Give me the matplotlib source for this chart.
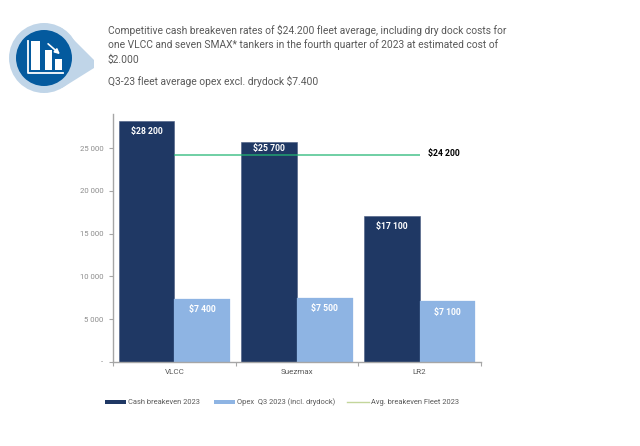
import matplotlib
matplotlib.use("Agg")
import matplotlib.pyplot as plt
from matplotlib.patches import Circle, Polygon, Rectangle

plt.rcParams['font.family'] = ['Roboto', 'Liberation Sans', 'DejaVu Sans']

categories = ['VLCC', 'Suezmax', 'LR2']
cash_breakeven = [28200, 25700, 17100]
opex = [7400, 7500, 7100]
fleet_avg = [24200, 24200, 24200]
cash_labels = ['$28 200', '$25 700', '$17 100']
opex_labels = ['$7 400', '$7 500', '$7 100']
avg_label = '$24 200'
y_ticks = [0, 5000, 10000, 15000, 20000, 25000]
y_labels = ['-', '5 000', '10 000', '15 000', '20 000', '25 000']

header_lines = [
    'Competitive cash breakeven rates of $24.200 fleet average, including dry dock costs for',
    'one VLCC and seven SMAX* tankers in the fourth quarter of 2023 at estimated cost of',
    '$2.000',
]
header_sub = 'Q3-23 fleet average opex excl. drydock $7.400'

W, H = 640, 446
DARK = '#1f3864'
LIGHT = '#8eb4e3'
GREY = '#8c8c8c'
TXT = '#595959'

fig = plt.figure(figsize=(6.4, 4.46), dpi=100)

# overlay in pixel coords for the icon and header
bg = fig.add_axes([0, 0, 1, 1])
bg.set_xlim(0, W)
bg.set_ylim(H, 0)
bg.axis('off')

bg.add_patch(Polygon([[62, 28], [94, 60], [94, 68], [62, 88]], color='#c0d5e8', lw=0))
bg.add_patch(Circle((44, 58), 35, color='#c0d5e8', lw=0))
bg.add_patch(Circle((44, 58), 28, color='#045a9e', lw=0))
bg.add_patch(Rectangle((31, 41), 9, 29, color='white', lw=0))
bg.add_patch(Rectangle((45, 50), 7, 20, color='white', lw=0))
bg.add_patch(Rectangle((55, 59), 7, 11, color='white', lw=0))
bg.plot([28, 28, 63], [41, 73, 73], color='white', lw=1.3)
bg.annotate('', xy=(62, 56), xytext=(46, 42),
            arrowprops=dict(arrowstyle='-|>', color='white', lw=1.2, mutation_scale=7))

for y, line in zip([30, 45, 60], header_lines):
    bg.text(108, y, line, fontsize=7.4, color=TXT, va='center', ha='left')
bg.text(108, 81, header_sub, fontsize=7.4, color=TXT, va='center', ha='left')

# chart axes: x 113..481, y 114..362 px
ax = fig.add_axes([113 / W, 1 - 362 / H, 368 / W, 248 / H])
x = list(range(len(categories)))
bw = 0.454
bars1 = ax.bar([i - bw / 2 for i in x], cash_breakeven, bw, color=DARK,
               edgecolor='#47597f', lw=0.4, label='Cash breakeven 2023')
bars2 = ax.bar([i + bw / 2 for i in x], opex, bw, color=LIGHT,
               edgecolor=LIGHT, lw=0.2, label='Opex  Q3 2023 (incl. drydock)')
# semi transparent so the line turns dark green over the navy bar, like the original
line, = ax.plot(x, fleet_avg, color='#22b573', alpha=0.7, lw=1.3, zorder=3,
                solid_capstyle='butt', label='Avg. breakeven Fleet 2023')

for b, s in zip(bars1, cash_labels):
    # the Suezmax label sits higher to clear the green line
    offset = -4.5 if s == '$25 700' else -8
    ax.annotate(s, (b.get_x() + b.get_width() / 2, b.get_height()), xytext=(0, offset),
                textcoords='offset points', ha='center', va='center',
                color='white', fontsize=6.2, fontweight='bold', zorder=5)
for b, s in zip(bars2, opex_labels):
    ax.annotate(s, (b.get_x() + b.get_width() / 2, b.get_height()), xytext=(0, -8),
                textcoords='offset points', ha='center', va='center',
                color='white', fontsize=6.2, fontweight='bold', zorder=5)
ax.annotate(avg_label, (2, fleet_avg[2]), xytext=(6, 1), textcoords='offset points',
            ha='left', va='center', color='black', fontsize=6.2, fontweight='bold')

ax.set_xlim(-0.5, 2.5)
ax.set_ylim(0, 29000)
ax.set_yticks(y_ticks)
ax.set_yticklabels(y_labels, fontsize=5.6, color=GREY)
ax.set_xticks([-0.5, 0.5, 1.5, 2.5])
ax.set_xticklabels([])
ax.set_xticks(x, minor=True)
ax.set_xticklabels(categories, minor=True, fontsize=5.8, color=TXT)
ax.tick_params(axis='x', which='minor', length=0, pad=5)
ax.tick_params(axis='x', which='major', length=3, direction='out', color='#a6a6a6', width=0.8)
ax.tick_params(axis='y', length=3, direction='out', color='#a6a6a6', width=0.8, pad=4)
for side in ['top', 'right']:
    ax.spines[side].set_visible(False)
for side in ['left', 'bottom']:
    ax.spines[side].set_color('#a6a6a6')
    ax.spines[side].set_linewidth(1)
ax.patch.set_alpha(0)

# legend keys, line key is paler in the original
key_y = 402
bg.add_patch(Rectangle((105, key_y - 2), 21, 4, color=DARK, lw=0))
bg.text(128, key_y, 'Cash breakeven 2023', fontsize=5.4, color=TXT, va='center')
bg.add_patch(Rectangle((214, key_y - 2), 21, 4, color=LIGHT, lw=0))
bg.text(237, key_y, 'Opex  Q3 2023 (incl. drydock)', fontsize=5.4, color=TXT, va='center')
bg.plot([347, 369], [key_y, key_y], color='#c3d69b', lw=1)
bg.text(371, key_y, 'Avg. breakeven Fleet 2023', fontsize=5.4, color=TXT, va='center')

fig.savefig('out.png', dpi=100)
